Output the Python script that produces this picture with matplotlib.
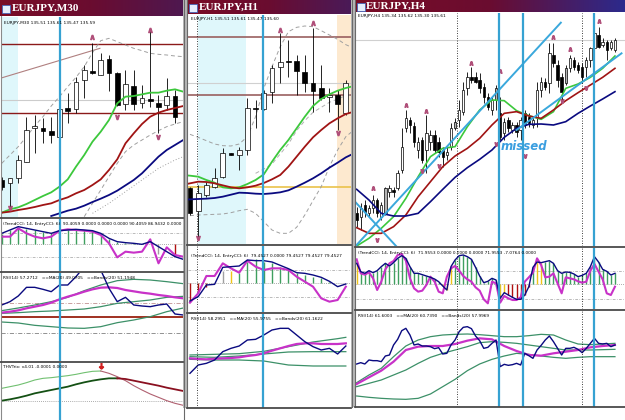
import numpy as np
import matplotlib
matplotlib.use("Agg")
import matplotlib.pyplot as plt
from matplotlib.patches import Rectangle
from matplotlib.colors import LinearSegmentedColormap

W, H = 625, 420

# ---------------- EURJPY,M30 (bars -1..20, lines -1..21) ----------------
m30_bars = np.arange(-1, 21)
m30_open = [460, 452, 465, 515, 615, 617, 608, 590, 677, 672, 760, 787, 775, 822, 782, 688, 742, 692, 704, 692, 685, 712]
m30_high = [470, 465, 535, 650, 655, 645, 650, 675, 720, 770, 805, 870, 840, 835, 785, 790, 790, 745, 915, 715, 765, 730]
m30_low = [430, 380, 450, 515, 540, 570, 572, 585, 630, 660, 705, 778, 775, 728, 682, 670, 670, 675, 680, 600, 670, 632]
m30_close = [440, 465, 520, 610, 622, 608, 595, 672, 667, 755, 790, 780, 820, 780, 685, 748, 687, 705, 697, 678, 713, 650]
m30_lx = np.arange(-1, 22)
m30_ma_fast = [362, 372, 378, 388, 400, 412, 423, 440, 462, 500, 535, 575, 605, 640, 690, 710, 712, 717, 722, 722, 728, 732, 725]
m30_ma_mid = [362, 365, 370, 374, 379, 385, 390, 400, 408, 420, 430, 445, 462, 490, 522, 570, 600, 628, 650, 662, 670, 676, 682]
m30_ma_slow_x = np.arange(5, 22)
m30_ma_slow = [352, 360, 368, 374, 383, 394, 404, 415, 428, 444, 460, 480, 505, 530, 550, 565, 580]
m30_bb_up = [510, 535, 560, 590, 622, 650, 682, 710, 740, 768, 800, 842, 878, 885, 875, 865, 855, 848, 840, 837, 835, 832, 830]
m30_bb_lo_x = np.arange(9, 22)
m30_bb_lo = [350, 390, 430, 470, 510, 545, 565, 580, 595, 608, 620, 628, 635]
m30_bb_mid_x = [10, 12, 14, 16, 18, 20, 21]
m30_bb_mid = [360, 390, 425, 460, 495, 520, 530]
m30_levels = [867, 660]
m30_gray_level = 700
m30_tline = ([-1.2, 10.9], [765, 855])
m30_frac_up = ([10, 17], [890, 910])
m30_frac_dn = ([0, 13, 18], [375, 650, 590])
m30_signal = 6.06
m30_cci_trend = [33, 43, 53, 48, 43, 38, 33, 41, 43, 45, 43, 41, 33, 18, 8, 5, 3, 0, 8, -7, -22, -37, -45]
m30_cci_entry = [23, 23, 48, 33, 23, 18, 23, 41, 45, 43, 41, 38, 28, 3, -39, -22, -25, -22, 15, -57, -9, -32, -37]
m30_cci_hist = [30, 42, 50, 46, 42, 37, 33, 40, 42, 44, 42, 40, 32, 17, 8, 5, 3, 0, 0, -30, 0, -35]
m30_cci_col = "ggggggggggggggggggg" + "s-r"
m30_rsi = [715, 725, 742, 768, 768, 762, 755, 775, 775, 800, 830, 830, 820, 765, 725, 738, 715, 712, 710, 715, 718, 688, 685]
m30_rsi_ma = [692, 695, 699, 705, 710, 715, 722, 732, 740, 747, 755, 762, 767, 768, 766, 760, 756, 752, 749, 745, 742, 738, 735]
m30_band_x = np.arange(-1, 22, 2)
m30_band_up = [698, 706, 715, 725, 738, 758, 775, 788, 792, 790, 785, 779]
m30_band_mid = [690, 692, 695, 697, 700, 703, 710, 720, 725, 730, 738, 741]
m30_band_lo = [664, 661, 654, 650, 646, 645, 650, 662, 670, 680, 695, 706]
m30_trix_sig = [465, 470, 475, 482, 490, 495, 497, 500, 503, 507, 512, 516, 517, 510, 500, 488, 473, 460, 448, 438, 428, 420, 414]
m30_trix = [428, 432, 437, 443, 450, 455, 460, 465, 470, 477, 483, 488, 492, 495, 495, 493, 488, 483, 478, 473, 467, 462, 457]

# ---------------- EURJPY,H1 (bars 0..19, lines -1..20) ----------------
h1_bars = np.arange(0, 20)
h1_open = [435, 368, 415, 440, 470, 540, 535, 550, 677, 672, 725, 800, 815, 818, 785, 750, 735, 708, 715, 660]
h1_high = [440, 445, 455, 495, 555, 542, 560, 705, 700, 730, 805, 900, 880, 835, 835, 915, 805, 735, 730, 760]
h1_low = [355, 290, 410, 435, 465, 534, 490, 535, 615, 670, 690, 750, 770, 715, 725, 665, 700, 665, 610, 655]
h1_close = [360, 422, 445, 465, 542, 536, 550, 675, 672, 722, 795, 815, 813, 788, 750, 728, 705, 715, 688, 750]
h1_lx = np.arange(-1, 21)
h1_ma_fast = [475, 473, 470, 460, 452, 438, 435, 438, 448, 460, 477, 515, 550, 580, 615, 650, 682, 703, 717, 728, 736, 742]
h1_ma_mid = [445, 450, 455, 454, 450, 444, 438, 435, 438, 443, 451, 462, 475, 500, 530, 560, 588, 610, 630, 645, 658, 665]
h1_ma_slow = [400, 402, 403, 404, 406, 410, 416, 422, 421, 419, 418, 420, 423, 429, 440, 452, 465, 480, 497, 512, 528, 540]
h1_bx = np.arange(0, 21)
h1_bb_up = [597, 588, 578, 568, 563, 562, 568, 590, 650, 735, 800, 860, 905, 918, 922, 920, 908, 895, 882, 866, 855]
h1_bb_lo = [353, 355, 356, 357, 358, 362, 368, 372, 360, 335, 310, 300, 300, 318, 355, 398, 440, 500, 550, 590, 610]
h1_bb_mid_x = np.arange(8, 21)
h1_bb_mid = [480, 493, 508, 538, 568, 608, 638, 663, 678, 693, 703, 713, 718]
h1_yellow_level = 440
h1_levels = [888, 715]
h1_gray_level = 752
h1_frac_up = ([11, 15], [910, 930])
h1_frac_dn = ([1, 18], [285, 600])
h1_signal = 8.86
h1_daysep = 0.9
h1_cci_trend = [-53, -40, -5, -3, 48, 50, 52, 70, 68, 68, 64, 54, 44, 32, 30, 25, 18, 6, -10, -2]
h1_cci_entry = [-58, -30, 22, 22, 60, 45, 32, 68, 50, 40, 45, 45, 40, 20, 5, -10, -45, -55, -50, -10]
h1_cci_hist = [-55, -30, -10, 0, 38, 38, 30, 65, 72, 65, 60, 50, 40, 30, 25, 20, 15, 5, 0, 0]
h1_cci_col = "rrr-sy" + "gggggggggggg" + "--"
h1_rsi = [600, 625, 630, 640, 665, 675, 682, 700, 702, 715, 730, 735, 735, 715, 695, 680, 670, 675, 658, 682]
h1_rsi_ma = [645, 643, 642, 644, 645, 646, 648, 652, 655, 660, 668, 675, 682, 688, 690, 690, 688, 688, 688, 690]
h1_band_x = [0, 3, 6, 9, 12, 15, 18, 19]
h1_band_up = [655, 657, 659, 666, 680, 694, 704, 708]
h1_band_mid = [650, 648, 652, 658, 664, 665, 665, 665]
h1_band_lo = [642, 640, 640, 637, 625, 622, 622, 622]

# ---------------- EURJPY,H4 (bars 0..63) ----------------
h4_bars = np.arange(0, 64)
h4_open = [360, 350, 385, 360, 375, 400, 350, 360, 425, 430, 435, 490, 615, 640, 622, 550, 580, 550, 575, 595,
           575, 550, 535, 560, 615, 640, 665, 735, 770, 770, 760, 740, 710, 670, 700, 660, 600, 640, 610, 625,
           610, 660, 650, 625, 650, 730, 755, 750, 835, 805, 770, 750, 795, 820, 805, 800, 800, 820, 855, 895,
           865, 875, 855, 850]
h4_high = [380, 390, 400, 385, 415, 405, 395, 440, 445, 440, 490, 615, 670, 650, 635, 590, 590, 655, 610, 610,
           590, 560, 560, 630, 645, 700, 755, 785, 800, 785, 780, 750, 720, 710, 745, 710, 645, 650, 635, 635,
           650, 670, 660, 650, 755, 770, 765, 870, 870, 820, 780, 805, 835, 830, 815, 810, 830, 860, 905, 920,
           885, 880, 880, 885]
h4_low = [320, 310, 350, 350, 360, 350, 340, 355, 410, 410, 430, 480, 605, 600, 560, 525, 510, 480, 550, 540,
          530, 500, 520, 550, 610, 620, 655, 715, 750, 750, 720, 690, 670, 655, 670, 580, 580, 605, 600, 590,
          580, 615, 620, 615, 620, 710, 730, 720, 800, 740, 700, 745, 785, 790, 780, 750, 770, 800, 850, 855,
          860, 820, 850, 845]
h4_close = [340, 375, 365, 375, 400, 360, 385, 435, 435, 425, 480, 560, 645, 625, 575, 575, 520, 600, 595, 550,
            545, 530, 545, 615, 635, 670, 730, 770, 760, 755, 735, 710, 680, 700, 735, 590, 635, 615, 625, 605,
            640, 625, 630, 640, 730, 755, 740, 840, 810, 760, 725, 795, 825, 800, 790, 770, 820, 855, 900, 860,
            875, 850, 875, 880]
h4_gray = [7, 24, 34, 51]
h4_lx = np.arange(0, 64, 3)
h4_ma_fast = [262, 285, 315, 350, 405, 470, 530, 555, 560, 620, 670, 700, 698, 668, 653, 642, 665, 735, 748, 768, 795, 832]
h4_ma_mid = [317, 300, 300, 320, 355, 410, 455, 500, 532, 555, 585, 625, 660, 665, 652, 645, 670, 698, 722, 745, 768, 795]
h4_ma_slow = [432, 400, 360, 352, 352, 360, 395, 432, 468, 497, 522, 550, 588, 615, 627, 628, 625, 635, 660, 682, 703, 725]
h4_tlines = [([-0.4, 49.8], [260, 932]), ([-0.4, 9.75], [395, 260]), ([39.0, 64.6], [610, 840])]
h4_gray_level = 880
h4_signals = [34.7, 40.65, 57.9]
h4_daysep = [24.55, 54.9]
h4_frac_up = ([4, 12, 17, 28, 35, 48, 52, 59], [437, 685, 667, 812, 787, 890, 852, 938])
h4_frac_dn = ([5, 16, 20, 34, 41, 50, 56], [280, 488, 502, 568, 532, 698, 735])
h4_cci_trend = [63, 38, 33, 41, 35, 41, 53, 63, 55, 65, 78, 86, 78, 53, 33, 33, 29, 25, 21, 16,
                8, -5, -17, 53, 73, 86, 88, 83, 75, 51, 25, 5, 9, 18, 13, -42, -25, -32, -39, -45,
                -45, -32, -7, 51, 67, 65, 68, 71, 63, 41, 33, 37, 36, 31, 23, 27, 33, 53, 83, 67,
                45, 39, 28, 33]
h4_cci_entry = [75, 33, 29, 36, 18, -17, 8, 45, 63, 70, 88, 91, 71, 18, -12, -22, -19, -2, 23, 8,
                -22, -27, 23, 48, 55, 41, 25, 15, 8, -9, -19, -45, -57, 8, 3, -55, -35, -42, -47, -47,
                -39, 8, 21, 35, 78, 58, 21, 23, 33, 3, -27, 21, 18, 15, 9, 5, 8, 41, 61, 38,
                15, -27, -32, -7]
h4_cci_col = "y" + "g" * 20 + "yyy" + "g" * 11 + "yy" + "rrrrrr" + "g" + "yy" + "g" * 18
h4_rsi = [628, 632, 628, 640, 638, 638, 635, 652, 655, 685, 702, 728, 735, 715, 685, 688, 682, 682, 680, 674,
          677, 658, 660, 685, 700, 725, 738, 740, 734, 712, 698, 675, 678, 690, 700, 620, 627, 624, 626, 630,
          625, 660, 653, 645, 670, 684, 700, 712, 695, 675, 655, 675, 675, 678, 672, 662, 675, 690, 705, 690,
          688, 690, 680, 685]
h4_rsi_ma = [568, 588, 608, 635, 670, 680, 682, 682, 688, 698, 705, 702, 682, 667, 655, 653, 660, 665, 670, 678, 682, 685]
h4_band_up = [572, 595, 615, 650, 682, 700, 710, 715, 717, 718, 716, 713, 710, 710, 713, 717, 715, 700, 688, 686, 688, 690]
h4_band_mid = [560, 570, 580, 595, 610, 630, 648, 660, 670, 680, 692, 695, 693, 690, 685, 680, 675, 670, 670, 670, 671, 672]
h4_band_lo = [532, 528, 525, 523, 522, 525, 538, 560, 582, 608, 628, 642, 652, 660, 657, 652, 648, 645, 648, 650, 650, 650]

GREEN = '#3cc83c'
RED = '#a01414'
NAVY = '#0a0a80'
BLUE = '#36a2d2'
MAG = '#c832c8'
TEAL = '#3c9068'
FRAC = '#b0507a'
HCOL = {'g': '#3f9f5f', 'y': '#f0c419', 'r': '#b01010', 's': '#a0a0a0'}

fig = plt.figure(figsize=(W / 100, H / 100), dpi=100)
fig.patch.set_facecolor('white')


def pane(x0, y0, x1, y1, xl, yl):
    ax = fig.add_axes([x0 / W, 1 - y1 / H, (x1 - x0) / W, (y1 - y0) / H])
    ax.set_xlim(*xl)
    ax.set_ylim(*yl)
    ax.set_xticks([])
    ax.set_yticks([])
    for s in ax.spines.values():
        s.set_visible(False)
    return ax


def candles(ax, x, o, h, l, c, gray=(), width=0.6):
    o, h, l, c = map(np.asarray, (o, h, l, c))
    ax.vlines(x, l, h, color='black', lw=0.6, zorder=3)
    cols = ['white' if cc >= oo else 'black' for oo, cc in zip(o, c)]
    for i in gray:
        cols[i] = '#b4b4b4'
    ax.bar(x, np.maximum(np.abs(c - o), 3), bottom=np.minimum(o, c), width=width,
           color=cols, edgecolor='black', lw=0.5, zorder=4)


def fractals(ax, up, dn, ms=3):
    ax.plot(up[0], up[1], ls='none', marker=r'$\wedge$', color=FRAC, ms=ms, zorder=6)
    ax.plot(dn[0], dn[1], ls='none', marker=r'$\vee$', color=FRAC, ms=ms, zorder=6)


def cci(ax, x, lx, trend, entry, hist, col, lev):
    ax.axhline(0, color='#909090', lw=0.6, ls=(0, (1, 1.5)))
    for v in lev:
        ax.axhline(v, color='#a0a0a0', lw=0.5, ls=(0, (4, 2, 1, 2)))
    for xi, hv, cc in zip(x, hist, col):
        if cc != '-':
            ax.vlines(xi, 0, hv, color=HCOL[cc], lw=1.0, zorder=2)
    ax.plot(lx, trend, color=NAVY, lw=1.0, zorder=4)
    ax.plot(lx, entry, color=MAG, lw=1.5, zorder=3)


def rsi(ax, x, val, mx, ma, bx, up, mid, lo):
    ax.plot(bx, up, color=TEAL, lw=0.9)
    ax.plot(bx, mid, color=TEAL, lw=0.9)
    ax.plot(bx, lo, color=TEAL, lw=0.9)
    ax.plot(mx, ma, color=MAG, lw=1.6)
    ax.plot(x, val, color=NAVY, lw=1.0)


# ---------------- panel M30 ----------------
xl = (-1.09, 20.97)
ax = pane(1, 17, 183, 217, xl, (349, 949))
ax.axvspan(-1.2, 1.0, color='#dff7fb', lw=0, zorder=0)
for v in m30_levels:
    ax.axhline(v, color='#8b1a1a', lw=1.0)
ax.axhline(m30_gray_level, color='#cccccc', lw=0.8)
ax.plot(*m30_tline, color='#b08080', lw=0.8)
ax.plot(m30_lx, m30_bb_up, color='#a0a0a0', lw=0.7, ls=(0, (4, 3)))
ax.plot(m30_bb_lo_x, m30_bb_lo, color='#a0a0a0', lw=0.7, ls=(0, (4, 3)))
ax.plot(m30_bb_mid_x, m30_bb_mid, color='#a0a0a0', lw=0.7, ls=(0, (1, 2)))
candles(ax, m30_bars, m30_open, m30_high, m30_low, m30_close)
ax.plot(m30_lx, m30_ma_fast, color=GREEN, lw=1.3, zorder=5)
ax.plot(m30_lx, m30_ma_mid, color=RED, lw=1.3, zorder=5)
ax.plot(m30_ma_slow_x, m30_ma_slow, color=NAVY, lw=1.3, zorder=5)
fractals(ax, m30_frac_up, m30_frac_dn)
ax.axvline(m30_signal, color=BLUE, lw=1.6, zorder=7)

ax = pane(1, 219, 183, 271, xl, (-80, 76))
cci(ax, m30_bars, m30_lx, m30_cci_trend, m30_cci_entry, m30_cci_hist, m30_cci_col, [35, -37])
ax.axvline(m30_signal, color=BLUE, lw=1.6, zorder=7)

ax = pane(1, 273, 183, 361, xl, (547, 811))
ax.axhline(680, color='#a03020', lw=1.4)
ax.axhline(722, color='#c09090', lw=0.6, ls=(0, (5, 2, 1, 2)))
ax.axhline(632, color='#808080', lw=0.6, ls=(0, (5, 2, 1, 2)))
rsi(ax, m30_lx, m30_rsi, m30_lx, m30_rsi_ma, m30_band_x, m30_band_up, m30_band_mid, m30_band_lo)
ax.axvline(m30_signal, color=BLUE, lw=1.6, zorder=7)

ax = pane(1, 363, 183, 420, xl, (370, 541))
ax.axhline(427, color='#909090', lw=0.6, ls=(0, (1, 1.5)))
ax.plot(m30_lx[:13], m30_trix_sig[:13], color='#70c070', lw=0.8)
ax.plot(m30_lx[12:], m30_trix_sig[12:], color='#b06070', lw=0.8)
ax.plot(m30_lx[:15], m30_trix[:15], color='#145014', lw=1.3)
ax.plot(m30_lx[14:], m30_trix[14:], color='#8a1020', lw=1.3)
ax.plot([11], [535], ls='none', marker=r'$\downarrow$', color='#d02020', ms=5)
ax.axvline(m30_signal, color=BLUE, lw=1.6, zorder=7)

# ---------------- panel H1 ----------------
xl = (-0.24, 19.63)
ax = pane(188, 15, 351, 244, xl, (268, 955))
ax.axvspan(1.02, 6.83, color='#dff7fb', lw=0, zorder=0)
ax.axvspan(17.9, 19.7, color='#fde9cf', lw=0, zorder=0)
ax.axhline(h1_yellow_level, color='#eac24a', lw=1.2)
for v in h1_levels:
    ax.axhline(v, color='#9a6060', lw=1.2)
ax.axhline(h1_gray_level, color='#d0d0d0', lw=0.8)
ax.plot(h1_bx, h1_bb_up, color='#a0a0a0', lw=0.7, ls=(0, (4, 3)))
ax.plot(h1_bx, h1_bb_lo, color='#a0a0a0', lw=0.7, ls=(0, (4, 3)))
ax.plot(h1_bb_mid_x, h1_bb_mid, color='#b0b0b0', lw=0.7, ls=(0, (4, 3)))
candles(ax, h1_bars, h1_open, h1_high, h1_low, h1_close)
ax.plot(h1_lx, h1_ma_fast, color=GREEN, lw=1.3, zorder=5)
ax.plot(h1_lx, h1_ma_mid, color=RED, lw=1.3, zorder=5)
ax.plot(h1_lx, h1_ma_slow, color=NAVY, lw=1.3, zorder=5)
fractals(ax, h1_frac_up, h1_frac_dn)
ax.axvline(h1_daysep, color='black', lw=0.6, ls=(0, (1, 2)))
ax.axvline(h1_signal, color=BLUE, lw=1.6, zorder=7)

ax = pane(188, 246, 351, 312, xl, (-86, 112))
cci(ax, h1_bars, h1_bars, h1_cci_trend, h1_cci_entry, h1_cci_hist, h1_cci_col, [40, -40])
ax.axvline(h1_daysep, color='black', lw=0.6, ls=(0, (1, 2)))
ax.axvline(h1_signal, color=BLUE, lw=1.6, zorder=7)

ax = pane(188, 314, 351, 408, xl, (496, 778))
rsi(ax, h1_bars, h1_rsi, h1_bars, h1_rsi_ma, h1_band_x, h1_band_up, h1_band_mid, h1_band_lo)
ax.axvline(h1_daysep, color='black', lw=0.6, ls=(0, (1, 2)))
ax.axvline(h1_signal, color=BLUE, lw=1.6, zorder=7)

# ---------------- panel H4 ----------------
xl = (-0.16, 65.45)
ax = pane(356, 13, 625, 246, xl, (262, 961))
ax.axhline(h4_gray_level, color='#d0d0d0', lw=0.8)
candles(ax, h4_bars, h4_open, h4_high, h4_low, h4_close, gray=h4_gray, width=0.6)
ax.plot(h4_lx, h4_ma_fast, color=GREEN, lw=1.2, zorder=5)
ax.plot(h4_lx, h4_ma_mid, color=RED, lw=1.2, zorder=5)
ax.plot(h4_lx, h4_ma_slow, color=NAVY, lw=1.2, zorder=5)
for tx, ty in h4_tlines:
    ax.plot(tx, ty, color='#3aa8dc', lw=1.4, zorder=6)
fractals(ax, h4_frac_up, h4_frac_dn, ms=2.6)
ax.text(40.8, 560, 'missed', color='#3a9ee0', fontsize=8.5, fontweight='bold',
        fontstyle='italic', ha='center', va='center', zorder=8)

ax2 = pane(356, 248, 625, 309, xl, (-74, 109))
cci(ax2, h4_bars, h4_bars, h4_cci_trend, h4_cci_entry, h4_cci_trend, h4_cci_col, [41, -45])
ax3 = pane(356, 311, 625, 407, xl, (499, 787))
rsi(ax3, h4_bars, h4_rsi, h4_lx, h4_rsi_ma, h4_lx, h4_band_up, h4_band_mid, h4_band_lo)
for a in (ax, ax2, ax3):
    for v in h4_daysep:
        a.axvline(v, color='black', lw=0.6, ls=(0, (1, 2)))
    for v in h4_signals:
        a.axvline(v, color=BLUE, lw=1.6, zorder=7)

# ---------------- window frames, titles and labels ----------------
ov = fig.add_axes([0, 0, 1, 1], zorder=20)
ov.patch.set_alpha(0)
ov.axis('off')
grad = np.linspace(0, 1, 256)[None, :]
bars = [(0, 184, 16, '#4e1850', 'EURJPY,M30', 12, 8.5),
        (187, 351, 14, '#4a1a58', 'EURJPY,H1', 199, 7.5),
        (355, 625, 12, '#2c2a8c', 'EURJPY,H4', 366, 6.5)]
for x0, x1, yb, c2, name, tx, ty in bars:
    cm = LinearSegmentedColormap.from_list('t', ['#7a0c26', '#6a0c30', c2])
    ov.imshow(grad, extent=[x0, x1, yb, 0], cmap=cm, aspect='auto', zorder=1)
    ov.add_patch(Rectangle((x0 + 2, ty - 4), 8, 8, facecolor='#e6eefc', edgecolor='#3060c0', lw=0.5, zorder=2))
    ov.text(tx, ty, name, color='white', fontsize=8, fontweight='bold', family='Liberation Serif',
            va='center', zorder=3)

# gaps between windows
ov.add_patch(Rectangle((183, 0), 4, 408, facecolor='#b8b8b8', edgecolor='none'))
ov.add_patch(Rectangle((351, 0), 4, 407, facecolor='#b8b8b8', edgecolor='none'))
for xv, y1 in [(183.5, 420), (186.5, 408), (351.5, 407), (354.5, 407)]:
    ov.plot([xv, xv], [0, y1], color='#6a6a6a', lw=0.8)
ov.plot([0.5, 0.5], [16, 420], color='#8a8a8a', lw=0.8)

# sub-window separators
for y, x0, x1 in [(218, 0, 183), (272, 0, 183), (362, 0, 183),
                  (245, 187, 351), (313, 187, 351), (408, 187, 351),
                  (247, 355, 625), (310, 355, 625), (407, 355, 625)]:
    ov.plot([x0, x1], [y, y], color='#4a4a4a', lw=1.3)

small = dict(fontsize=3.1, color='black', va='center', zorder=5)
ov.text(4, 23, 'EURJPY,M30 135.51 135.61 135.47 135.59', **small)
ov.text(3, 224, '(TrendCCI: 14, EntryCCI: 6)  90.4059 0.0000 0.0000 0.0000 90.4059 86.9432 0.0000', **small)
ov.text(3, 278, 'RSI(14) 57.2712   ==MA(20) 49.0705   ==Bands(20) 51.1948', **small)
ov.text(3, 367, 'THVTrix: v4.01 -0.0001 0.0000', **small)
ov.text(191, 19, 'EURJPY,H1 135.51 135.61 135.47 135.60', **small)
ov.text(191, 256, '(TrendCCI: 14, EntryCCI: 6)  79.4527 0.0000 79.4527 79.4527 79.4527', **small)
ov.text(191, 319, 'RSI(14) 58.2951   ==MA(20) 55.9755   ==Bands(20) 61.1622', **small)
ov.text(358, 16, 'EURJPY,H4 135.34 135.62 135.30 135.61', **small)
ov.text(358, 253, '(TrendCCI: 14, EntryCCI: 6)  71.9553 0.0000 0.0000 0.0000 71.9553 -7.0764 0.0000', **small)
ov.text(358, 316, 'RSI(14) 61.6003   ==MA(20) 60.7390   ==Bands(20) 57.9969', **small)

ov.set_xlim(0, W)
ov.set_ylim(H, 0)

fig.savefig('out.png', dpi=100)
